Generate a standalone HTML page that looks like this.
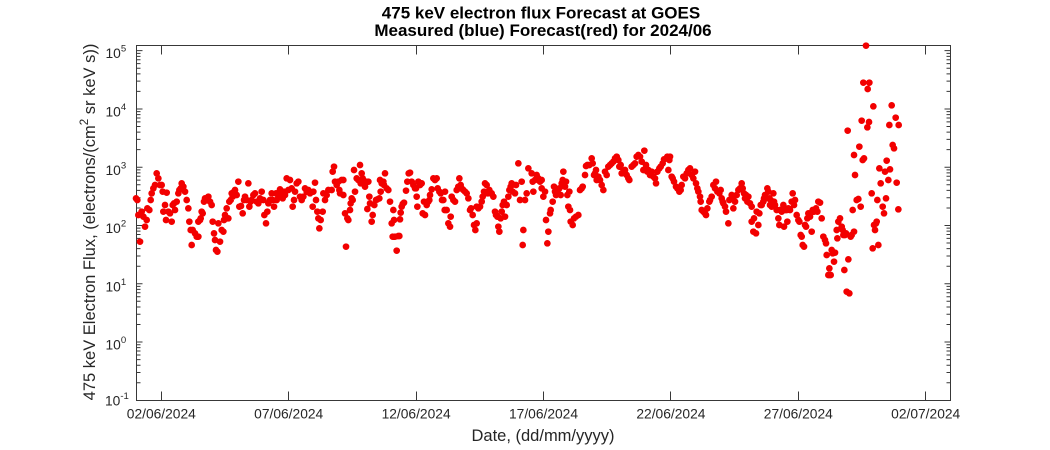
<!DOCTYPE html>
<html>
<head>
<meta charset="utf-8">
<style>
html,body{margin:0;padding:0;background:#fff;}
body{width:1050px;height:450px;overflow:hidden;}
svg{display:block;}
text{font-family:"Liberation Sans",Arial,Helvetica,sans-serif;}
</style>
</head>
<body>
<svg width="1050" height="450" viewBox="0 0 1050 450" xmlns="http://www.w3.org/2000/svg">
<rect x="0" y="0" width="1050" height="450" fill="#fff"/>
<defs>
<path id="mn" d="M0-17.54h4M0-27.8h4M0-35.08h4M0-40.73h4M0-45.34h4M0-49.24h4M0-52.62h4M0-55.6h4"/>
</defs>
<g stroke="#383838" stroke-width="1" fill="none">
<rect x="136.5" y="45.5" width="814" height="355"/>
<use href="#mn" transform="translate(136.5,400.3)"/>
<use href="#mn" transform="translate(136.5,342.03)"/>
<use href="#mn" transform="translate(136.5,283.76)"/>
<use href="#mn" transform="translate(136.5,225.49)"/>
<use href="#mn" transform="translate(136.5,167.22)"/>
<use href="#mn" transform="translate(136.5,108.95)"/>
<use href="#mn" transform="translate(950.5,400.3) scale(-1,1)"/>
<use href="#mn" transform="translate(950.5,342.03) scale(-1,1)"/>
<use href="#mn" transform="translate(950.5,283.76) scale(-1,1)"/>
<use href="#mn" transform="translate(950.5,225.49) scale(-1,1)"/>
<use href="#mn" transform="translate(950.5,167.22) scale(-1,1)"/>
<use href="#mn" transform="translate(950.5,108.95) scale(-1,1)"/>
<path d="M136.5 342.03h6M136.5 283.76h6M136.5 225.49h6M136.5 167.22h6M136.5 108.95h6M136.5 50.68h6M950.5 342.03h-6M950.5 283.76h-6M950.5 225.49h-6M950.5 167.22h-6M950.5 108.95h-6M950.5 50.68h-6"/>
<path d="M161.5 400.5v-9M288.5 400.5v-9M416.5 400.5v-9M543.5 400.5v-9M670.5 400.5v-9M798.5 400.5v-9M925.5 400.5v-9M161.5 45.5v9M288.5 45.5v9M416.5 45.5v9M543.5 45.5v9M670.5 45.5v9M798.5 45.5v9M925.5 45.5v9"/>
</g>

<g fill="#262626" font-size="13.8" text-anchor="start">
<text x="105.5" y="58.2">10<tspan dy="-6.5" font-size="9.6">5</tspan></text>
<text x="105.5" y="116.5">10<tspan dy="-6.5" font-size="9.6">4</tspan></text>
<text x="105.5" y="174.8">10<tspan dy="-6.5" font-size="9.6">3</tspan></text>
<text x="105.5" y="233">10<tspan dy="-6.5" font-size="9.6">2</tspan></text>
<text x="105.5" y="291.3">10<tspan dy="-6.5" font-size="9.6">1</tspan></text>
<text x="105.5" y="349.5">10<tspan dy="-6.5" font-size="9.6">0</tspan></text>
<text x="105" y="405.3">10<tspan dy="-6.5" font-size="9.6">-1</tspan></text>
</g>
<g fill="#262626" font-size="13.8" text-anchor="middle">
<text x="161.3" y="418.3">02/06/2024</text>
<text x="288.7" y="418.3">07/06/2024</text>
<text x="416.1" y="418.3">12/06/2024</text>
<text x="543.5" y="418.3">17/06/2024</text>
<text x="670.9" y="418.3">22/06/2024</text>
<text x="798.3" y="418.3">27/06/2024</text>
<text x="925.7" y="418.3">02/07/2024</text>
</g>
<text x="543" y="441" fill="#262626" font-size="16.5" text-anchor="middle">Date, (dd/mm/yyyy)</text>
<text x="95" y="222" fill="#262626" font-size="16.5" text-anchor="middle" transform="rotate(-90 95 222)">475 keV Electron Flux, (electrons/(cm<tspan dy="-7" font-size="11.5">2</tspan><tspan dy="7"> sr keV s))</tspan></text>
<text x="541" y="18.3" fill="#000" font-size="17" font-weight="bold" text-anchor="middle">475 keV electron flux Forecast at GOES</text>
<text x="543" y="36" fill="#000" font-size="17" font-weight="bold" text-anchor="middle">Measured (blue) Forecast(red) for 2024/06</text>

<g fill="none" stroke="#f20000" stroke-width="20" stroke-linecap="round">
<path transform="translate(130,130) scale(0.33333)" d="M18 205h.1M22 210h.1M30 335h.1M25 255h.1M35 245h.1M40 260h.1M45 290h.1M50 270h.1M52 235h.1M58 240h.1M62 210h.1M65 190h.1M70 175h.1M75 165h.1M80 130h.1M85 145h.1M90 165h.1M95 165h.1M98 185h.1M100 245h.1M105 225h.1M108 270h.1M110 188h.1M115 245h.1M120 250h.1M125 275h.1M128 225h.1M132 220h.1M135 240h.1M140 215h.1M145 190h.1M148 180h.1M152 175h.1M155 160h.1M160 170h.1M165 185h.1M170 210h.1M175 235h.1M178 275h.1M182 300h.1M185 345h.1M188 300h.1M195 310h.1M200 320h.1M205 320h.1M205 275h.1M210 270h.1M212 265h.1M215 245h.1M218 250h.1M222 215h.1M225 205h.1M230 210h.1M235 200h.1M240 215h.1M245 225h.1M248 275h.1M252 310h.1M255 330h.1M258 360h.1M262 365h.1M265 280h.1M270 335h.1M275 300h.1M280 305h.1M282 270h.1M285 255h.1M290 235h.1M295 265h.1M298 215h.1M302 210h.1M305 190h.1M308 200h.1M312 185h.1M315 180h.1M320 195h.1M325 155h.1M328 230h.1M333 228h.1M338 250h.1M342 210h.1M345 200h.1M350 210h.1M355 160h.1M358 230h.1M362 215h.1M365 210h.1M370 195h.1M375 190h.1M380 215h.1M385 220h.1M390 205h.1M395 185h.1M400 210h.1M403 255h.1M408 280h.1M412 245h.1M415 220h.1M420 210h.1M425 190h.1M428 210h.1M432 230h.1M438 190h.1M440 210h.1M445 200h.1M450 178h.1M455 190h.1M458 205h.1M462 185h.1M465 195h.1M470 145h.1M475 180h.1M480 150h.1M485 175h.1M488 230h.1M492 210h.1M495 185h.1M500 160h.1M505 155h.1M510 200h.1M515 210h.1M520 200h.1M525 175h.1M530 185h.1M535 180h.1M540 190h.1M548 230h.1M550 185h.1M555 158h.1M558 210h.1M562 245h.1M565 265h.1M568 295h.1M572 270h.1M578 245h.1M580 190h.1M585 210h.1M590 195h.1M595 180h.1"/>
<path transform="translate(330,130) scale(0.33333)" d="M5 180h.1M8 125h.1M12 110h.1M15 155h.1M20 165h.1M25 155h.1M28 180h.1M30 190h.1M35 150h.1M40 150h.1M40 195h.1M45 250h.1M48 350h.1M52 265h.1M55 270h.1M60 240h.1M62 220h.1M65 205h.1M68 210h.1M72 120h.1M75 185h.1M80 145h.1M85 150h.1M90 105h.1M92 160h.1M95 130h.1M98 145h.1M100 160h.1M105 170h.1M110 155h.1M112 237h.1M115 155h.1M118 200h.1M120 220h.1M125 275h.1M128 255h.1M133 225h.1M138 210h.1M142 208h.1M148 205h.1M150 150h.1M152 185h.1M155 160h.1M160 155h.1M162 165h.1M165 130h.1M170 175h.1M175 180h.1M180 215h.1M185 280h.1M190 240h.1M192 270h.1M188 320h.1M195 320h.1M200 362h.1M205 318h.1M208 318h.1M210 268h.1M212 248h.1M215 230h.1M218 222h.1M222 218h.1M228 182h.1M232 155h.1M236 130h.1M240 128h.1M245 155h.1M250 165h.1M255 175h.1M258 175h.1M260 200h.1M262 230h.1M265 155h.1M270 165h.1M275 160h.1M278 250h.1M282 215h.1M285 255h.1M290 225h.1M295 215h.1M298 210h.1M300 195h.1M305 178h.1M310 145h.1M315 150h.1M320 145h.1M323 175h.1M328 185h.1M332 190h.1M336 210h.1M340 210h.1M344 240h.1M345 185h.1M350 240h.1M355 280h.1M360 290h.1M362 260h.1M365 200h.1M370 210h.1M375 215h.1M380 180h.1M385 170h.1M388 145h.1M392 165h.1M395 175h.1M400 180h.1M405 185h.1M410 190h.1M415 205h.1M420 240h.1M423 235h.1M428 255h.1M432 285h.1M436 300h.1M440 280h.1M440 230h.1M445 235h.1M450 230h.1M455 215h.1M458 200h.1M462 185h.1M465 160h.1M470 165h.1M473 190h.1M478 180h.1M485 190h.1M490 200h.1M495 245h.1M498 255h.1M502 260h.1M505 290h.1M508 305h.1M512 265h.1M515 245h.1M518 225h.1M522 215h.1M525 260h.1M530 225h.1M535 200h.1M538 180h.1M542 170h.1M545 160h.1M548 185h.1M555 190h.1M558 165h.1M565 100h.1M570 210h.1M575 155h.1M578 345h.1M580 300h.1M585 210h.1M590 190h.1M595 115h.1"/>
<path transform="translate(530,130) scale(0.33333)" d="M5 130h.1M8 155h.1M10 185h.1M15 150h.1M20 135h.1M25 145h.1M30 155h.1M35 150h.1M35 175h.1M40 200h.1M45 185h.1M48 270h.1M52 340h.1M55 305h.1M60 250h.1M62 240h.1M68 215h.1M72 170h.1M75 185h.1M78 195h.1M82 185h.1M88 175h.1M92 195h.1M95 160h.1M98 150h.1M100 125h.1M105 170h.1M108 155h.1M112 195h.1M115 230h.1M118 185h.1M120 240h.1M122 275h.1M128 285h.1M132 265h.1M138 260h.1M145 255h.1M150 180h.1M155 175h.1M158 170h.1M165 135h.1M168 108h.1M172 105h.1M178 105h.1M185 85h.1M188 100h.1M192 135h.1M195 130h.1M198 120h.1M200 150h.1M205 140h.1M210 150h.1M215 165h.1M220 180h.1M225 125h.1M230 135h.1M235 110h.1M240 105h.1M245 100h.1M250 95h.1M255 85h.1M260 80h.1M265 90h.1M268 110h.1M272 105h.1M275 130h.1M280 125h.1M285 120h.1M290 135h.1M295 145h.1M298 150h.1M305 110h.1M310 105h.1M315 100h.1M320 80h.1M325 75h.1M330 80h.1M335 95h.1M340 120h.1M343 62h.1M348 105h.1M352 125h.1M355 120h.1M360 135h.1M365 125h.1M370 140h.1M375 145h.1M378 160h.1M382 125h.1M388 115h.1M392 110h.1M398 100h.1M402 88h.1M408 85h.1M412 80h.1M415 120h.1M418 90h.1M420 80h.1M425 140h.1M428 145h.1M432 155h.1M438 170h.1M442 175h.1M448 185h.1M452 180h.1M455 165h.1M460 140h.1M465 145h.1M470 130h.1M475 120h.1M480 115h.1M485 135h.1M490 145h.1M495 125h.1M498 160h.1M502 175h.1M505 185h.1M510 200h.1M512 215h.1M515 240h.1M520 245h.1M525 250h.1M528 255h.1M532 235h.1M538 215h.1M540 210h.1M545 200h.1M550 165h.1M555 175h.1M558 155h.1M562 185h.1M568 190h.1M572 180h.1M575 205h.1M578 215h.1M580 220h.1M585 230h.1M588 245h.1M595 280h.1M598 210h.1"/>
<path transform="translate(730,130) scale(0.33333)" d="M5 195h.1M8 205h.1M10 235h.1M12 200h.1M15 215h.1M20 195h.1M25 180h.1M30 175h.1M35 160h.1M38 175h.1M42 190h.1M45 205h.1M48 195h.1M52 215h.1M55 200h.1M60 220h.1M65 230h.1M65 275h.1M70 305h.1M72 265h.1M78 310h.1M80 245h.1M85 285h.1M88 250h.1M92 225h.1M95 225h.1M100 215h.1M102 205h.1M105 195h.1M108 205h.1M112 175h.1M115 185h.1M118 205h.1M120 225h.1M122 210h.1M125 230h.1M130 190h.1M132 215h.1M135 225h.1M140 240h.1M145 265h.1M148 285h.1M150 240h.1M155 245h.1M160 225h.1M162 290h.1M165 240h.1M170 240h.1M172 275h.1M175 235h.1M180 240h.1M185 215h.1M188 190h.1M192 225h.1M195 210h.1M200 255h.1M205 270h.1M208 275h.1M212 315h.1M215 320h.1M218 345h.1M222 350h.1M225 285h.1M228 290h.1M232 265h.1M235 250h.1M240 260h.1M245 305h.1M248 240h.1M252 245h.1M258 235h.1M262 245h.1M265 215h.1M270 218h.1M275 265h.1M280 320h.1M285 330h.1M288 340h.1M290 375h.1M295 435h.1M298 415h.1M302 435h.1M305 360h.1M308 370h.1M312 395h.1M315 368h.1M320 300h.1M322 325h.1M325 275h.1M330 265h.1M335 290h.1M338 300h.1M340 315h.1M343 420h.1M345 315h.1M348 310h.1M350 485h.1M355 388h.1M358 490h.1M362 320h.1M365 315h.1M368 240h.1M372 305h.1M372 75h.1M375 135h.1M380 210h.1M385 207h.1M388 50h.1M392 230h.1M398 90h.1M402 85h.1M425 190h.1M428 355h.1M432 285h.1M435 300h.1M438 280h.1M440 275h.1M442 210h.1M445 345h.1M448 115h.1M452 160h.1M458 230h.1M462 250h.1M465 125h.1M468 205h.1M470 92h.1M475 150h.1M480 118h.1M488 45h.1M492 55h.1M500 158h.1M505 238h.1"/>
<path transform="translate(780,30) scale(0.33333)" d="M258 47h.1M250 158h.1M268 158h.1M263 177h.1M280 229h.1M335 226h.1M245 272h.1M267 276h.1M262 292h.1M347 263h.1M328 285h.1M356 285h.1M203 302h.1"/>
</g>
</svg>
</body>
</html>
